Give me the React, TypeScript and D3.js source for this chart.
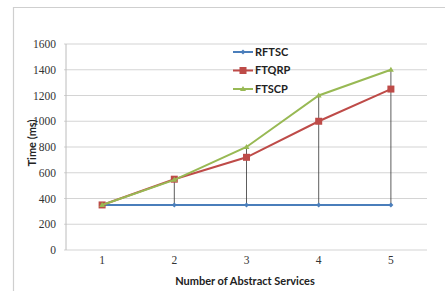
import * as d3 from 'd3'

const categories = ['1', '2', '3', '4', '5']
const rftsc = [350, 350, 350, 350, 350]
const ftqrp = [350, 550, 720, 1000, 1250]
const ftscp = [350, 545, 800, 1200, 1400]
const yTicks = [0, 200, 400, 600, 800, 1000, 1200, 1400, 1600]

const W = 445
const H = 291
const M = { left: 66, right: 18, top: 44, bottom: 41 }

const series = [
  { name: 'RFTSC', values: rftsc, color: '#4a7ebb', marker: 'diamond' },
  { name: 'FTQRP', values: ftqrp, color: '#be4b48', marker: 'square' },
  { name: 'FTSCP', values: ftscp, color: '#98b954', marker: 'triangle' }
]

function Marker({ type, x, y, color }: { type: string; x: number; y: number; color: string }) {
  if (type === 'square') {
    return <rect x={x - 3.5} y={y - 3.5} width={7} height={7} fill={color} />
  }
  if (type === 'triangle') {
    return <path d={`M${x},${y - 3} L${x + 3},${y + 2} L${x - 3},${y + 2} Z`} fill={color} />
  }
  return <path d={`M${x},${y - 2.5} L${x + 2.5},${y} L${x},${y + 2.5} L${x - 2.5},${y} Z`} fill={color} />
}

export default function App() {
  const x = d3.scaleBand().domain(categories).range([M.left, W - M.right])
  const y = d3.scaleLinear().domain([0, 1600]).range([H - M.bottom, M.top])
  const cx = (c: string) => (x(c) ?? 0) + x.bandwidth() / 2

  const line = d3.line<number>()
    .x((_, i) => cx(categories[i]))
    .y(d => y(d))

  const serifFont = 'Liberation Serif, DejaVu Serif, serif'
  const sansFont = 'Lato, DejaVu Sans, sans-serif'

  return (
    <svg width={W} height={H} style={{ position: 'absolute', left: 0, top: 0, background: '#fff' }}>
      {/* frame */}
      <path d={`M${W + 2},7.5 H13.5 V${H + 2}`} fill="none" stroke="#cfcfcf" strokeWidth={1.2} />

      {/* grid */}
      {yTicks.map(t => (
        <line key={t} x1={M.left - 2} x2={W - M.right} y1={y(t)} y2={y(t)} stroke="#d4d4d4" strokeWidth={1.2} />
      ))}
      <line x1={M.left} x2={M.left} y1={y(1600)} y2={y(0)} stroke="#bcbcbc" strokeWidth={1} />

      {/* y tick labels */}
      {yTicks.map(t => (
        <text key={t} x={56} y={y(t)} dy="0.35em" textAnchor="end" fontFamily={serifFont} fontSize={11.5} fill="#333">
          {t}
        </text>
      ))}

      {/* x tick labels */}
      {categories.map(c => (
        <text key={c} x={cx(c)} y={264} textAnchor="middle" fontFamily={serifFont} fontSize={11.5} fill="#333">
          {c}
        </text>
      ))}

      {/* high-low lines */}
      {categories.map((c, i) => {
        const vals = series.map(s => s.values[i])
        return (
          <line key={c} x1={cx(c)} x2={cx(c)} y1={y(d3.max(vals) ?? 0)} y2={y(d3.min(vals) ?? 0)} stroke="#333" strokeWidth={0.8} />
        )
      })}

      {/* series */}
      {series.map(s => (
        <g key={s.name}>
          <path d={line(s.values) ?? ''} fill="none" stroke={s.color} strokeWidth={2} />
          {s.values.map((v, i) => (
            <Marker key={i} type={s.marker} x={cx(categories[i])} y={y(v)} color={s.color} />
          ))}
        </g>
      ))}

      {/* legend */}
      {series.map((s, i) => {
        const ly = 52 + i * 18.5
        return (
          <g key={s.name}>
            <line x1={233} x2={253} y1={ly} y2={ly} stroke={s.color} strokeWidth={2} />
            <Marker type={s.marker} x={243} y={ly} color={s.color} />
            <text x={255} y={ly} dy="0.35em" fontFamily={sansFont} fontSize={11} fontWeight="bold" fill="#222">
              {s.name}
            </text>
          </g>
        )
      })}

      {/* axis titles */}
      <text x={245} y={285} textAnchor="middle" fontFamily={sansFont} fontSize={11} fontWeight="bold" fill="#222">
        Number of Abstract Services
      </text>
      <text transform={`translate(36,143) rotate(-90)`} textAnchor="middle" fontFamily={sansFont} fontSize={11} fontWeight="bold" fill="#222">
        Time (ms)
      </text>
    </svg>
  )
}
